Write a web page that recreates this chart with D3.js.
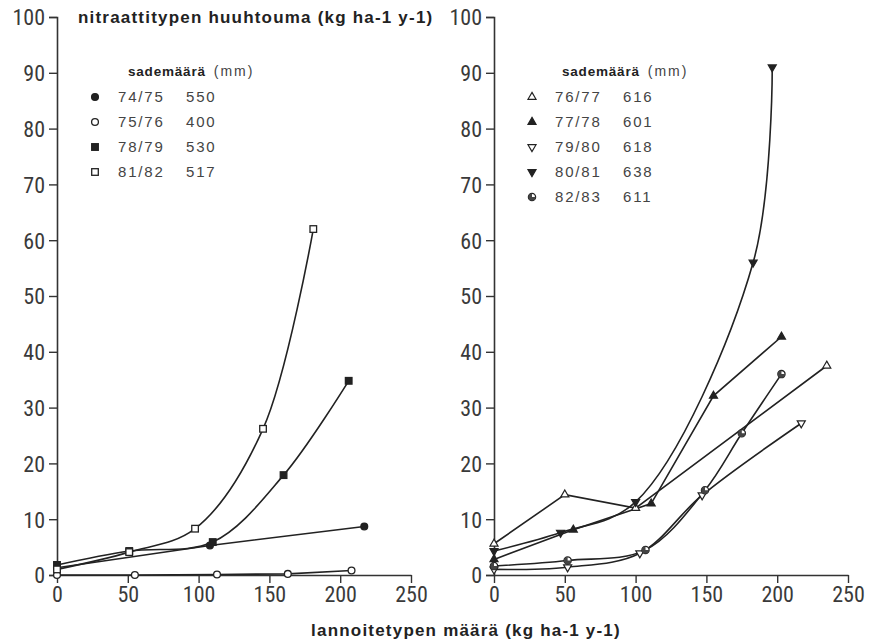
<!DOCTYPE html>
<html lang="fi">
<head>
<meta charset="utf-8">
<title>Nitraattitypen huuhtouma</title>
<script src="https://d3js.org/d3.v7.min.js"></script>
<style>
  body { margin: 0; background: #fff; }
  svg { display: block; }
  .tick text { font-family: "Liberation Sans Narrow", "Roboto Condensed", "Liberation Sans", sans-serif; font-size: 22px; fill: #3a3a3a; }
  .leg { font-family: "Liberation Sans", Arial, sans-serif; font-size: 15px; letter-spacing: 1.8px; fill: #444; }
  .hdr { font-family: "Liberation Sans", Arial, sans-serif; font-weight: bold; fill: #222; }
</style>
</head>
<body>
<div id="chart"></div>
<script>
// axis ticks
var xTicks = [0, 50, 100, 150, 200, 250];
var yTicks = [0, 10, 20, 30, 40, 50, 60, 70, 80, 90, 100];

// left panel
var x7475 = [0, 108, 217];
var y7475 = [1.3, 5.3, 8.7];
var x7576 = [0, 55, 113, 163, 208];
var y7576 = [0, 0, 0.1, 0.2, 0.8];
var x7879 = [0, 51, 110, 160, 206];
var y7879 = [1.8, 4.3, 5.9, 17.9, 34.8];
var x8182 = [0, 51, 97.5, 145.5, 181];
var y8182 = [1.0, 4.1, 8.3, 26.2, 62];

// right panel
var x7677 = [0, 50, 100, 235];
var y7677 = [5.6, 14.4, 12.0, 37.5];
var x7778 = [0, 56, 111, 155, 203];
var y7778 = [2.8, 8.1, 12.8, 32.1, 42.7];
var x7980 = [0, 52, 103, 147, 217];
var y7980 = [1.0, 1.4, 3.9, 14.3, 27.2];
var x8081 = [0, 47, 100, 183, 196.5];
var y8081 = [4.3, 7.6, 13.1, 56, 91];
var x8283 = [0, 52, 107, 149, 175, 203];
var y8283 = [1.6, 2.6, 4.5, 15.2, 25.4, 36];

// legend texts
var leftYears = ["74/75", "75/76", "78/79", "81/82"];
var leftRain = ["550", "400", "530", "517"];
var rightYears = ["76/77", "77/78", "79/80", "80/81", "82/83"];
var rightRain = ["616", "601", "618", "638", "611"];

var W = 872, H = 644;
var svg = d3.select("#chart").append("svg")
    .attr("width", W).attr("height", H);

var y = d3.scaleLinear().domain([0, 100]).range([575, 17]);

function zip(xs, ys) { return xs.map(function(d, i) { return [d, ys[i]]; }); }

// marker drawing
function marker(g, kind, cx, cy) {
  var ink = "#222";
  if (kind == "circleF" || kind == "circleO") {
    g.append("circle").attr("cx", cx).attr("cy", cy).attr("r", 3.4)
      .attr("fill", kind == "circleF" ? ink : "#fff").attr("stroke", ink).attr("stroke-width", 1.3);
  } else if (kind == "squareF" || kind == "squareO") {
    g.append("rect").attr("x", cx - 3.3).attr("y", cy - 3.3).attr("width", 6.6).attr("height", 6.6)
      .attr("fill", kind == "squareF" ? ink : "#fff").attr("stroke", ink).attr("stroke-width", 1.3);
  } else if (kind.indexOf("tri") == 0) {
    var down = kind.indexOf("Down") > 0;
    var filled = kind.slice(-1) == "F";
    g.append("path").attr("d", d3.symbol().type(d3.symbolTriangle).size(28)())
      .attr("transform", "translate(" + cx + "," + cy + ")" + (down ? " rotate(180)" : ""))
      .attr("fill", filled ? ink : "#fff").attr("stroke", ink).attr("stroke-width", 1.2);
  } else if (kind == "half") {
    g.append("circle").attr("cx", cx).attr("cy", cy).attr("r", 3.6)
      .attr("fill", "#fff").attr("stroke", ink).attr("stroke-width", 1.3);
    g.append("path")
      .attr("d", d3.arc()({innerRadius: 0, outerRadius: 3.6, startAngle: Math.PI / 2, endAngle: Math.PI * 2}))
      .attr("transform", "translate(" + cx + "," + cy + ")")
      .attr("fill", "#444");
  }
}

function panel(x0, series, legend) {
  var x = d3.scaleLinear().domain([0, 250]).range([x0, x0 + 354]);
  var g = svg.append("g");

  // y axis
  g.append("g")
    .attr("transform", "translate(" + x0 + ",0)")
    .call(d3.axisLeft(y).tickValues(yTicks).tickSize(8).tickPadding(4))
    .call(function(a) {
      a.select(".domain").attr("stroke", "#333").attr("stroke-width", 1.6);
      a.selectAll(".tick line").attr("stroke", "#333").attr("stroke-width", 1.4);
      a.selectAll(".tick text").attr("dy", "0.36em");
    });

  // x axis
  g.append("g")
    .attr("transform", "translate(0,575)")
    .call(d3.axisBottom(x).tickValues(xTicks).tickSize(8).tickPadding(3).tickSizeOuter(0))
    .call(function(a) {
      a.select(".domain").attr("stroke", "#333").attr("stroke-width", 1.6);
      a.selectAll(".tick line").attr("stroke", "#333").attr("stroke-width", 1.4);
    });

  // lines
  series.forEach(function(s) {
    var pts = zip(s.xs, s.ys);
    g.append("path")
      .datum(pts)
      .attr("d", d3.line()
        .x(function(d) { return x(d[0]); })
        .y(function(d) { return y(d[1]); })
        .curve(s.smooth ? d3.curveCatmullRom : d3.curveLinear))
      .attr("fill", "none")
      .attr("stroke", "#222")
      .attr("stroke-width", 1.6);
  });
  series.forEach(function(s) {
    zip(s.xs, s.ys).forEach(function(d) { marker(g, s.kind, x(d[0]), y(d[1])); });
  });

  // legend
  var lg = svg.append("g");
  var h = lg.append("text").attr("x", legend.hx).attr("y", 76).attr("class", "hdr")
    .style("font-size", "13.5px").style("letter-spacing", "0.8px");
  h.append("tspan").text("sademäärä");
  h.append("tspan").attr("dx", 8).style("font-weight", "normal").style("font-size", "14px")
    .style("letter-spacing", "2px").style("fill", "#444").text("(mm)");
  series.forEach(function(s, i) {
    var cy = 97 + i * 25;
    marker(lg, s.kind, legend.mx, cy);
    lg.append("text").attr("class", "leg").attr("x", legend.mx + 23).attr("y", cy + 5).text(legend.years[i]);
    lg.append("text").attr("class", "leg").attr("x", legend.mx + 91).attr("y", cy + 5).text(legend.rain[i]);
  });
}

panel(57, [
  {xs: x7475, ys: y7475, kind: "circleF", smooth: false},
  {xs: x7576, ys: y7576, kind: "circleO", smooth: false},
  {xs: x7879, ys: y7879, kind: "squareF", smooth: true},
  {xs: x8182, ys: y8182, kind: "squareO", smooth: true}
], {hx: 128, mx: 95, years: leftYears, rain: leftRain});

panel(494, [
  {xs: x7677, ys: y7677, kind: "triUpO", smooth: false},
  {xs: x7778, ys: y7778, kind: "triUpF", smooth: false},
  {xs: x7980, ys: y7980, kind: "triDownO", smooth: true},
  {xs: x8081, ys: y8081, kind: "triDownF", smooth: true},
  {xs: x8283, ys: y8283, kind: "half", smooth: true}
], {hx: 562, mx: 532, years: rightYears, rain: rightRain});

// titles
svg.append("text").attr("class", "hdr").attr("x", 78).attr("y", 23)
  .style("font-size", "17px").style("letter-spacing", "1.2px")
  .text("nitraattitypen huuhtouma (kg ha-1 y-1)");
svg.append("text").attr("class", "hdr").attr("x", 466).attr("y", 636)
  .attr("text-anchor", "middle").style("font-size", "17px").style("letter-spacing", "1.2px")
  .text("lannoitetypen määrä (kg ha-1 y-1)");
</script>
</body>
</html>
